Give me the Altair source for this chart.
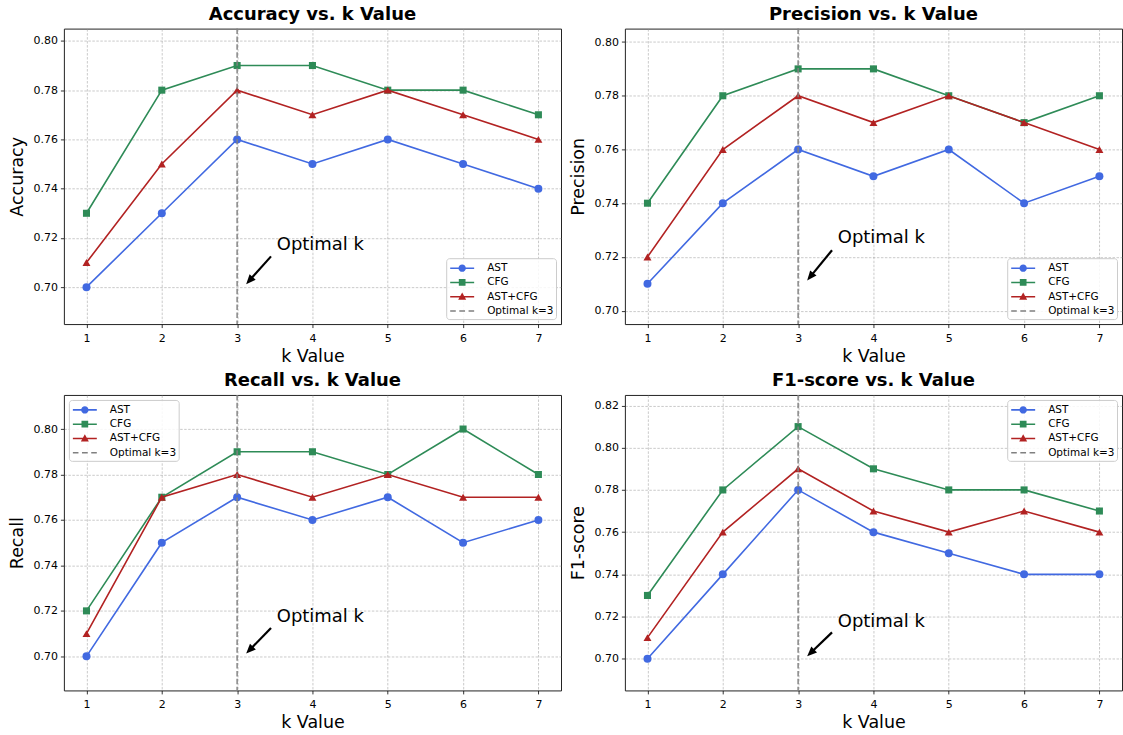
import math
import altair as alt
import pandas as pd

# ---------------- data ----------------
K = [1, 2, 3, 4, 5, 6, 7]
SERIES = ["AST", "CFG", "AST+CFG"]
OPT_K = 3
OPT_LABEL = "Optimal k=3"
ANNOT_TEXT = "Optimal k"

ACC_AST = [0.70, 0.73, 0.76, 0.75, 0.76, 0.75, 0.74]
ACC_CFG = [0.73, 0.78, 0.79, 0.79, 0.78, 0.78, 0.77]
ACC_BOTH = [0.71, 0.75, 0.78, 0.77, 0.78, 0.77, 0.76]

PRE_AST = [0.71, 0.74, 0.76, 0.75, 0.76, 0.74, 0.75]
PRE_CFG = [0.74, 0.78, 0.79, 0.79, 0.78, 0.77, 0.78]
PRE_BOTH = [0.72, 0.76, 0.78, 0.77, 0.78, 0.77, 0.76]

REC_AST = [0.70, 0.75, 0.77, 0.76, 0.77, 0.75, 0.76]
REC_CFG = [0.72, 0.77, 0.79, 0.79, 0.78, 0.80, 0.78]
REC_BOTH = [0.71, 0.77, 0.78, 0.77, 0.78, 0.77, 0.77]

F1_AST = [0.70, 0.74, 0.78, 0.76, 0.75, 0.74, 0.74]
F1_CFG = [0.73, 0.78, 0.81, 0.79, 0.78, 0.78, 0.77]
F1_BOTH = [0.71, 0.76, 0.79, 0.77, 0.76, 0.77, 0.76]

YT_80 = [0.70, 0.72, 0.74, 0.76, 0.78, 0.80]
YT_82 = [0.70, 0.72, 0.74, 0.76, 0.78, 0.80, 0.82]

# ---------------- style ----------------
FONT = "DejaVu Sans"
COLORS = {"AST": "#4169E1", "CFG": "#2E8B57", "AST+CFG": "#B22222", OPT_LABEL: "#808080"}
SHAPES = {"AST": "circle", "CFG": "square", "AST+CFG": "triangle-up"}
SIZES = {"AST": 64, "CFG": 50, "AST+CFG": 64}
W, H = 498, 296
XDOM = [0.7, 7.3]

# legend symbols (line + marker), unit = 8 px with symbolSize 256
LEG_PATHS = {
    "AST": "M-1.5,-0.1H-0.3V0.1H-1.5Z M0.3,-0.1H1.5V0.1H0.3Z "
           "M0.46,0A0.46,0.46 0 1,1 -0.46,0A0.46,0.46 0 1,1 0.46,0Z",
    "CFG": "M-1.5,-0.1H-0.3V0.1H-1.5Z M0.3,-0.1H1.5V0.1H0.3Z "
           "M-0.42,-0.42H0.42V0.42H-0.42Z",
    "AST+CFG": "M-1.5,-0.1H-0.2V0.1H-1.5Z M0.2,-0.1H1.5V0.1H0.2Z "
               "M0,-0.52L0.5,0.38L-0.5,0.38Z",
    OPT_LABEL: "M-1.5,-0.1H-0.8V0.1H-1.5Z M-0.36,-0.1H0.36V0.1H-0.36Z "
               "M0.8,-0.1H1.5V0.1H0.8Z",
}
ARROW_HEAD = "M0,0L0.42,1L-0.42,1Z"


def panel(title, ylabel, data, yticks, lorient):
    rows = []
    for s in SERIES:
        for k, v in zip(K, data[s]):
            rows.append({"k": k, "series": s, "value": v})
    df = pd.DataFrame(rows)
    allv = [v for s in SERIES for v in data[s]]
    lo, hi = min(allv), max(allv)
    ydom = [lo - 0.015, hi + 0.015]

    xenc = alt.X("k:Q", scale=alt.Scale(domain=XDOM, nice=False, zero=False),
                 axis=alt.Axis(values=K, format="d", title="k Value"))
    yenc = alt.Y("value:Q", scale=alt.Scale(domain=ydom, nice=False, zero=False),
                 axis=alt.Axis(values=yticks, format=".2f", title=ylabel))

    layers = []
    for s in SERIES:
        base = alt.Chart(df[df["series"] == s])
        layers.append(base.mark_line(color=COLORS[s], strokeWidth=1.6).encode(x=xenc, y=yenc))
        layers.append(base.mark_point(shape=SHAPES[s], filled=True, opacity=1, size=SIZES[s],
                                      color=COLORS[s], strokeWidth=0).encode(x=xenc, y=yenc))

    vline = alt.Chart(pd.DataFrame({"k": [OPT_K]})).mark_rule(
        color=COLORS[OPT_LABEL], strokeDash=[5.5, 2.4], strokeWidth=1.6, opacity=0.9
    ).encode(x="k:Q")
    layers.append(vline)

    # annotation
    tx, ty = 3.5, lo + 0.015
    tail = (3.45, lo + 0.0125)
    tip = (3.12, lo + 0.0012)
    f = 0.78
    shaft_end = (tail[0] + f * (tip[0] - tail[0]), tail[1] + f * (tip[1] - tail[1]))
    dx = (tip[0] - tail[0]) / (XDOM[1] - XDOM[0]) * W
    dy = -(tip[1] - tail[1]) / (ydom[1] - ydom[0]) * H
    ang = math.degrees(math.atan2(dx, -dy)) % 360

    txt = alt.Chart(pd.DataFrame({"k": [tx], "value": [ty], "label": [ANNOT_TEXT]})).mark_text(
        align="left", baseline="alphabetic", fontSize=18, font=FONT, color="black", dx=2
    ).encode(x="k:Q", y="value:Q", text="label:N")
    shaft = alt.Chart(pd.DataFrame({"k": [tail[0]], "value": [tail[1]],
                                    "k2": [shaft_end[0]], "value2": [shaft_end[1]]})).mark_rule(
        color="black", strokeWidth=2.2
    ).encode(x="k:Q", y="value:Q", x2="k2:Q", y2="value2:Q")
    head = alt.Chart(pd.DataFrame({"k": [tip[0]], "value": [tip[1]]})).mark_point(
        shape=ARROW_HEAD, filled=True, opacity=1, size=380, angle=ang, color="black", strokeWidth=0
    ).encode(x="k:Q", y="value:Q")
    layers += [shaft, head, txt]

    # legend (dummy, clipped points outside the view)
    dom = SERIES + [OPT_LABEL]
    leg = alt.Legend(title=None, orient=lorient, offset=5, padding=2, rowPadding=0.3,
                     symbolSize=256, symbolOffset=6, labelOffset=17, labelFontSize=10.5,
                     labelAlign="left",
                     labelFont=FONT, labelColor="black", symbolStrokeWidth=0, symbolOpacity=1,
                     fillColor="rgba(255,255,255,0.85)", strokeColor="#cccccc",
                     cornerRadius=3)
    legdf = pd.DataFrame({"k": [0.0] * 4, "value": [ydom[0]] * 4, "series": dom})
    legl = alt.Chart(legdf).mark_point(filled=True, opacity=1, clip=True, strokeWidth=0).encode(
        x="k:Q", y="value:Q",
        color=alt.Color("series:N", scale=alt.Scale(domain=dom, range=[COLORS[d] for d in dom]),
                        legend=leg),
        shape=alt.Shape("series:N", scale=alt.Scale(domain=dom, range=[LEG_PATHS[d] for d in dom]),
                        legend=leg),
    )
    layers.append(legl)

    return alt.layer(*layers).properties(
        width=W, height=H,
        title=alt.TitleParams(title, fontSize=18, fontWeight="bold", font=FONT, color="black", offset=4),
    )


p1 = panel("Accuracy vs. k Value", "Accuracy",
           {"AST": ACC_AST, "CFG": ACC_CFG, "AST+CFG": ACC_BOTH}, YT_80, "bottom-right")
p2 = panel("Precision vs. k Value", "Precision",
           {"AST": PRE_AST, "CFG": PRE_CFG, "AST+CFG": PRE_BOTH}, YT_80, "bottom-right")
p3 = panel("Recall vs. k Value", "Recall",
           {"AST": REC_AST, "CFG": REC_CFG, "AST+CFG": REC_BOTH}, YT_80, "top-left")
p4 = panel("F1-score vs. k Value", "F1-score",
           {"AST": F1_AST, "CFG": F1_CFG, "AST+CFG": F1_BOTH}, YT_82, "top-right")


def ind(c):
    return c.resolve_scale(x="independent", y="independent", color="independent",
                           shape="independent").resolve_legend(color="independent",
                                                               shape="independent")


row1 = ind(alt.hconcat(p1, p2, spacing=7))
row2 = ind(alt.hconcat(p3, p4, spacing=7))
chart = ind(alt.vconcat(row1, row2, spacing=5)).properties(
    padding={"left": 8, "top": 4, "right": 0, "bottom": 0},
    background="white",
).configure_view(
    stroke="#222222", strokeWidth=1
).configure_axis(
    labelFont=FONT, labelFontSize=11, labelColor="black",
    titleFont=FONT, titleFontSize=17.5, titleFontWeight="normal", titleColor="black",
    tickColor="black", tickSize=3.5, tickWidth=0.8, labelPadding=3,
    domain=False,
    grid=True, gridColor="#8f8f8f", gridDash=[2.5, 1.5], gridWidth=0.6, gridOpacity=0.8,
).configure_axisX(titlePadding=4, labelPadding=5).configure_axisY(titlePadding=6, labelFlush=False)

chart.save("out.html", embed_options={"renderer": "svg", "actions": False})
